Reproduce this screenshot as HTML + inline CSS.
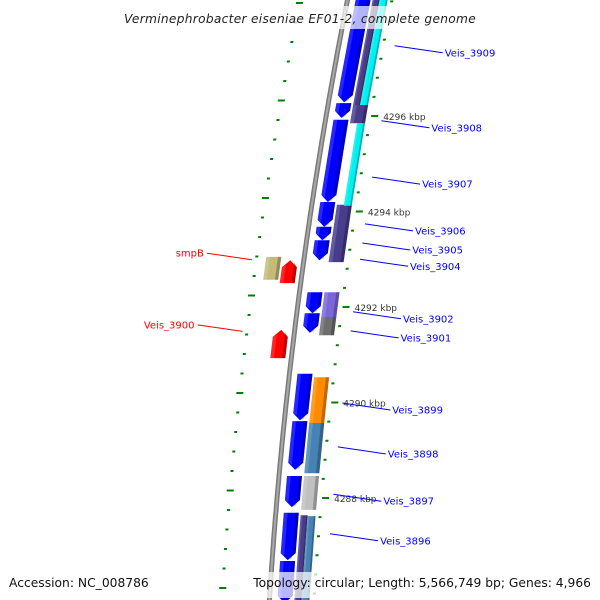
<!DOCTYPE html>
<html><head><meta charset="utf-8">
<style>
html,body{margin:0;padding:0;background:#fff;}
svg{display:block;font-family:"DejaVu Sans","Liberation Sans",sans-serif;}
</style></head>
<body>
<svg id="map" width="600" height="600" viewBox="0 0 600 600" xmlns="http://www.w3.org/2000/svg">
<g id="ticksL"></g>
<g id="ticksR"></g>
<g id="backbone"></g>
<g id="feats"></g>
<g id="labels"></g>
<g id="overlay">
  <rect x="108" y="6" width="384" height="23" fill="#fff" fill-opacity="0.7"/>
  <text x="300" y="23" text-anchor="middle" font-size="12.2" font-style="italic" fill="#222" letter-spacing="0.3">Verminephrobacter eiseniae EF01-2, complete genome</text>
  <text x="9" y="587" font-size="12.3" fill="#111">Accession: NC_008786</text>
  <rect x="258" y="572" width="336" height="26" fill="#fff" fill-opacity="0.72"/>
  <text x="591" y="587" text-anchor="end" font-size="12.3" fill="#111">Topology: circular; Length: 5,566,749 bp; Genes: 4,966</text>
</g>
</svg>
<script>
// ---- data (kbp) ----
const featStart = [4298.6,4296.27,4295.92,4294.20,4293.68,4293.40, 4298.6,4296.23,4294.14, 4298.6,4295.85, 4292.31,4291.87, 4292.31,4291.79, 4290.60,4289.61,4288.46,4287.69,4286.68, 4290.53,4289.57,4288.46, 4287.64,4287.62, 4293.05,4292.98,4291.52];
const featEnd   = [4296.29,4295.96,4294.20,4293.68,4293.40,4292.98, 4296.23,4295.85,4292.94, 4296.23,4294.12, 4291.87,4291.46, 4291.79,4291.41, 4289.63,4288.59,4287.81,4286.70,4285.80, 4289.57,4288.52,4287.75, 4285.80,4285.80, 4292.57,4292.50,4290.93];
const featTrack = ['F','F','F','F','F','F', 'Rn','R','R', 'Rc','Rc', 'F','F', 'R','R', 'F','F','F','F','F', 'R','R','R', 'Rn','Rc', 'L2','L1','L1'];
const featColor = ['#0000ff','#0000ff','#0000ff','#0000ff','#0000ff','#0000ff', '#483d8b','#483d8b','#483d8b', '#00f0f0','#00f0f0', '#0000ff','#0000ff', '#7b68d8','#6e6e6e', '#0000ff','#0000ff','#0000ff','#0000ff','#0000ff', '#ff8c00','#4682b4','#c0c0c0', '#483d8b','#4682b4', '#c4bb78','#ff0000','#ff0000'];
const featDir   = [1,1,1,1,1,1, 0,0,0, 0,0, 1,1, 0,0, 1,1,1,1,1, 0,0,0, 0,0, 0,-1,-1];
const kbpTicks = [4288,4290,4292,4294,4296,4298];
const geneNames = ['Veis_3909','Veis_3908','Veis_3907','Veis_3906','Veis_3905','Veis_3904','Veis_3902','Veis_3901','Veis_3899','Veis_3898','Veis_3897','Veis_3896'];
const geneKbp   = [4297.47,4295.90,4294.72,4293.74,4293.34,4293.00,4291.90,4291.50,4289.99,4289.07,4288.08,4287.25];
const leftNames = ['smpB','Veis_3900'];
const leftKbp   = [4292.99,4291.49];

// ---- axes ----
const K0=4288, Y0=498, PXK=47.75;
function yOf(k){return Y0-(k-K0)*PXK;}
function bx(y){return 347.5-0.1967*y+0.000111*y*y;}
const trackD={F:[8,23],R:[25,40],Rn:[25,32],Rc:[32,40],L1:[-21,-6],L2:[-38,-23]};
const NS='http://www.w3.org/2000/svg';
function mk(tag,attrs,parent){const e=document.createElementNS(NS,tag);for(const k in attrs)e.setAttribute(k,attrs[k]);parent.appendChild(e);return e;}
function P(y,d){return (bx(y)+d).toFixed(1)+','+y.toFixed(1);}

// backbone
const bb=document.getElementById('backbone');
let pts=[];for(let y=-5;y<=605;y+=5)pts.push(P(y,0));
let l1=mk('polyline',{points:pts.join(' '),fill:'none',stroke:'#7a7a7a','stroke-width':5},bb);


let l2=mk('polyline',{points:pts.join(' '),fill:'none',stroke:'#a8a8a8','stroke-width':2},bb);



// features
const fg=document.getElementById('feats');
for(let i=0;i<featStart.length;i++){
  const ya=yOf(featStart[i]), yb=yOf(featEnd[i]);
  const [d1,d2]=trackD[featTrack[i]]; const dm=(d1+d2)/2; const tip=7;
  let poly;
  if(featDir[i]===1){poly=[P(ya,d1),P(ya,d2),P(yb-tip,d2),P(yb,dm),P(yb-tip,d1)];}
  else if(featDir[i]===-1){poly=[P(ya,dm),P(ya+tip,d2),P(yb,d2),P(yb,d1),P(ya+tip,d1)];}
  else{poly=[P(ya,d1),P(ya,d2),P(yb,d2),P(yb,d1)];}
  const g=mk('g',{},fg);
  
  
  mk('polygon',{points:poly.join(' '),fill:featColor[i]},g);
  // right-side shading
  const ds=d2-(d2-d1)*0.22;
  let sh;
  if(featDir[i]===1){sh=[P(ya,ds),P(ya,d2),P(yb-tip,d2),P(yb,dm),P(yb-tip*0.3,ds)];}
  else if(featDir[i]===-1){sh=[P(ya+tip*0.3,ds),P(ya+tip,d2),P(yb,d2),P(yb,ds)];}
  else{sh=[P(ya,ds),P(ya,d2),P(yb,d2),P(yb,ds)];}
  mk('polygon',{points:sh.join(' '),fill:'#000','fill-opacity':0.25},g);
  const dl=d1+(d2-d1)*0.25;
  let hl=featDir[i]===1?[P(ya,d1),P(ya,dl),P(yb-tip*0.7,dl),P(yb-tip,d1)]:[P(ya+(featDir[i]===-1?tip:0),d1),P(ya+(featDir[i]===-1?tip*0.7:0),dl),P(yb,dl),P(yb,d1)];
  mk('polygon',{points:hl.join(' '),fill:'#fff','fill-opacity':0.15},g);
}

// right ticks
const tr=document.getElementById('ticksR');
for(let k=4285.6;k<=4298.8;k+=0.4){
  const y=yOf(k); if(y<-2||y>602)continue;
  const isLong=kbpTicks.some(t=>Math.abs(t-k)<0.05);
  const d1=isLong?45:43, d2=isLong?52:46;
  const t=mk('polygon',{points:[P(y-1,d1),P(y-1,d2),P(y+1,d2),P(y+1,d1)].join(' '),fill:'#008000'},tr);
  
  
}
// left ticks
const tl=document.getElementById('ticksL');
for(let n=0;n<32;n++){
  const y=3+n*19.5; if(y>602)break;
  const isLong=n%5===0;
  const d1=isLong?-51:-49, d2=isLong?-44:-46;
  const t=mk('polygon',{points:[P(y-1,d1),P(y-1,d2),P(y+1,d2),P(y+1,d1)].join(' '),fill:'#008000'},tl);
  
  
}

// kbp labels
const lg=document.getElementById('labels');
kbpTicks.forEach(k=>{
  const y=yOf(k); if(y<30)return;
  const t=mk('text',{x:(bx(y)+57).toFixed(1),y:(y+4).toFixed(1),'font-size':9,fill:'#333'},lg);
  t.textContent=k+' kbp';
  
  
});
// gene labels right
geneNames.forEach((name,i)=>{
  const y=yOf(geneKbp[i]); const x0=bx(y)+56; const ty=y+7; const tx=x0+50;
  const ln=mk('line',{x1:x0.toFixed(1),y1:y.toFixed(1),x2:(tx-2).toFixed(1),y2:(ty).toFixed(1),stroke:'#0000ff','stroke-width':1},lg);
  
  
  const t=mk('text',{x:tx.toFixed(1),y:(ty+3.5).toFixed(1),'font-size':10,fill:'#0000ff'},lg);
  t.textContent=name;
  
  
});
// gene labels left
leftNames.forEach((name,i)=>{
  const y=yOf(leftKbp[i]); const x1=bx(y)-52; const ty=y-6.5; const tx=x1-47;
  const ln=mk('line',{x1:x1.toFixed(1),y1:y.toFixed(1),x2:(tx+2).toFixed(1),y2:ty.toFixed(1),stroke:'#ff0000','stroke-width':1},lg);
  
  
  const t=mk('text',{x:(tx-1).toFixed(1),y:(ty+3.5).toFixed(1),'font-size':10,fill:'#ff0000','text-anchor':'end'},lg);
  t.textContent=name;
  
  
});
</script>
</body></html>
